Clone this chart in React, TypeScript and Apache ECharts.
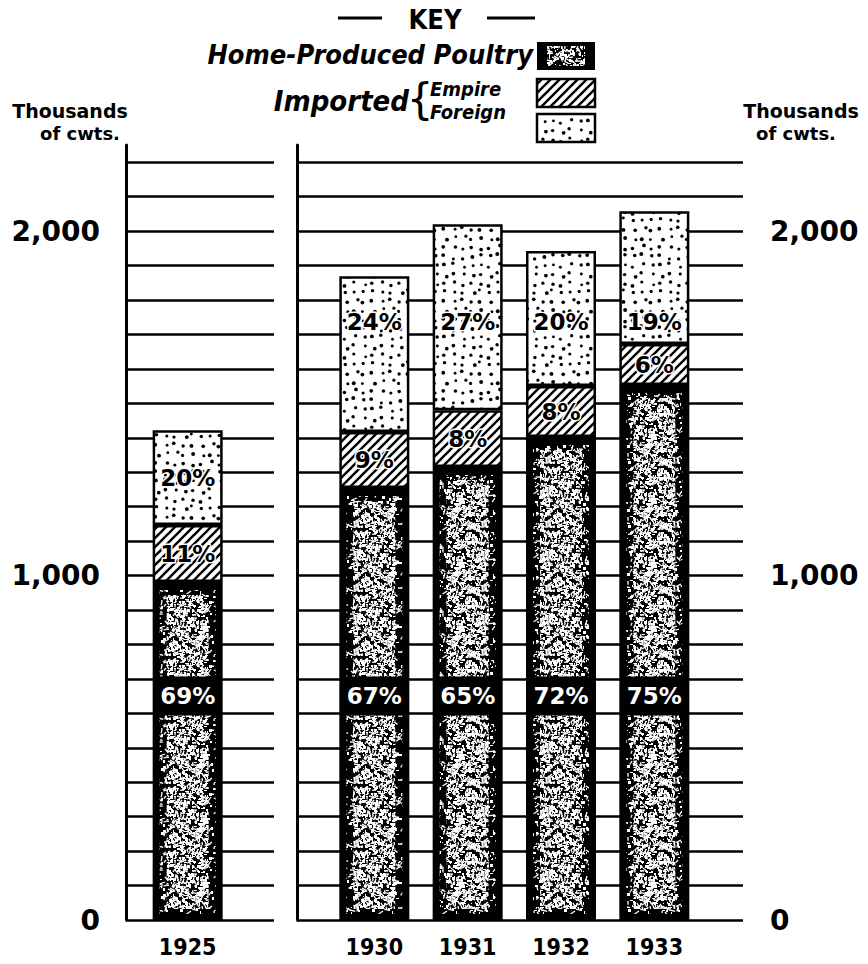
import React, { useEffect, useRef } from 'react';
import * as echarts from 'echarts';

// ---------- data ----------
const CATEGORIES = ['1925', '', '1930', '1931', '1932', '1933'];
const HOME = [981, null, 1254, 1315, 1402, 1553];
const EMPIRE = [166, null, 163, 165, 148, 119];
const FOREIGN = [275, null, 452, 540, 392, 386];
const HOME_PCT = ['69%', '', '67%', '65%', '72%', '75%'];
const EMPIRE_PCT = ['11%', '', '9%', '8%', '8%', '6%'];
const FOREIGN_PCT = ['20%', '', '24%', '27%', '20%', '19%'];
const Y_LABEL_VALUES = [0, 1000, 2000];
const Y_LABEL_TEXTS = ['0', '1,000', '2,000'];
const Y_MAX = 2250;
const Y_STEP = 100;
const HOME_LABEL_ROW = 650;
const FOREIGN_LABEL_ROW = 1736;

// ---------- styles ----------
const FONT = '"DejaVu Sans"';
const FONT_C = '"DejaVu Sans Condensed", "DejaVu Sans"';
const BAR_W = 70;

function rng(seed: number) {
  let s = seed >>> 0;
  return () => {
    s = (Math.imul(s, 1664525) + 1013904223) >>> 0;
    return s / 4294967296;
  };
}

function canvasOf(T: number) {
  const c = document.createElement('canvas');
  c.width = T;
  c.height = T;
  return [c, c.getContext('2d') as CanvasRenderingContext2D] as const;
}

function pattern(c: HTMLCanvasElement) {
  return { image: c.toDataURL(), imageWidth: c.width, imageHeight: c.height, repeat: 'repeat' };
}

function makeDots() {
  const T = 72;
  const [c, g] = canvasOf(T);
  g.fillStyle = '#fff';
  g.fillRect(0, 0, T, T);
  g.fillStyle = '#000';
  const r = rng(11);
  const n = 8;
  const cell = T / n;
  for (let i = 0; i < n; i++) {
    for (let j = 0; j < n; j++) {
      const x = i * cell + 2 + r() * (cell - 4);
      const y = j * cell + 2 + r() * (cell - 4);
      g.beginPath();
      g.arc(x, y, 1.4 + r() * 0.6, 0, Math.PI * 2);
      g.fill();
    }
  }
  return pattern(c);
}

function makeHatch() {
  const T = 9;
  const [c, g] = canvasOf(T);
  g.fillStyle = '#fff';
  g.fillRect(0, 0, T, T);
  g.strokeStyle = '#000';
  g.lineWidth = 2.4;
  for (const k of [-T, 0, T]) {
    g.beginPath();
    g.moveTo(k - 1, T + 1);
    g.lineTo(k + T + 1, -1);
    g.stroke();
  }
  return pattern(c);
}

function makeSpeckle(seed: number, count: number) {
  const T = 64;
  const [c, g] = canvasOf(T);
  g.clearRect(0, 0, T, T);
  g.fillStyle = '#fff';
  g.strokeStyle = '#fff';
  g.lineWidth = 1.3;
  const r = rng(seed);
  for (let k = 0; k < count; k++) {
    const x = Math.floor(r() * T);
    const y = Math.floor(r() * T);
    if (r() < 0.55) {
      const w = 1 + Math.floor(r() * 3);
      const h = 1 + Math.floor(r() * 3);
      for (const dx of [0, -T]) for (const dy of [0, -T]) g.fillRect(x + dx, y + dy, w, h);
    } else {
      const a = r() * Math.PI;
      const len = 2 + r() * 4;
      for (const dx of [0, -T]) {
        for (const dy of [0, -T]) {
          g.beginPath();
          g.moveTo(x + dx, y + dy);
          g.lineTo(x + dx + Math.cos(a) * len, y + dy + Math.sin(a) * len);
          g.stroke();
        }
      }
    }
  }
  return pattern(c);
}

function yLabel(v: number) {
  const k = Y_LABEL_VALUES.indexOf(v);
  return k >= 0 ? Y_LABEL_TEXTS[k] : '';
}

function foreignLabelY(i: number) {
  const lo = (HOME[i] as number) + (EMPIRE[i] as number);
  const hi = lo + (FOREIGN[i] as number);
  return FOREIGN_LABEL_ROW > lo + 40 && FOREIGN_LABEL_ROW < hi - 40 ? FOREIGN_LABEL_ROW : (lo + hi) / 2;
}

export default function App() {
  const ref = useRef<HTMLDivElement>(null);

  useEffect(() => {
    const el = ref.current as HTMLDivElement;
    const chart = echarts.init(el, null, { renderer: 'svg', width: 868, height: 964 });

    const dots = makeDots();
    const hatch = makeHatch();
    const speckSparse = makeSpeckle(3, 190);
    const speckDense = makeSpeckle(19, 620);

    const idx = CATEGORIES.map((_, i) => i).filter((i) => HOME[i] != null);

    const frameY = (gridIndex: number, position: string, margin: number) => ({
      type: 'value',
      gridIndex,
      position,
      min: 0,
      max: Y_MAX,
      interval: Y_STEP,
      axisLine: { show: true, lineStyle: { color: '#000', width: 3 } },
      axisTick: { show: false },
      axisLabel: {
        show: true,
        formatter: yLabel,
        margin,
        color: '#000',
        fontFamily: FONT,
        fontWeight: 'bold',
        fontSize: 28,
        showMaxLabel: false,
      },
      splitLine: { show: true, showMaxLine: false, lineStyle: { color: '#000', width: 2.5 } },
    });

    const txt = (text: string, x: number, y: number, font: string, align: string) => ({
      type: 'text',
      style: {
        text,
        x,
        y,
        font,
        fill: '#000',
        align,
        textAlign: align,
        verticalAlign: 'middle',
        textVerticalAlign: 'middle',
      },
    });

    const labelBase = {
      show: true,
      position: 'inside',
      fontFamily: FONT,
      fontWeight: 'bold',
      fontSize: 23,
    };

    const option: any = {
      animation: false,
      backgroundColor: '#fff',
      grid: [
        { left: 141, right: 167, top: 145, bottom: 44 },
        { left: 126, width: 148, top: 145, bottom: 44 },
        { left: 297, width: 446, top: 145, bottom: 44 },
      ],
      xAxis: [
        {
          type: 'category',
          gridIndex: 0,
          data: CATEGORIES,
          axisLine: { show: false },
          axisTick: { show: false },
          axisLabel: {
            margin: 15,
            color: '#000',
            fontFamily: FONT_C,
            fontWeight: 'bold',
            fontSize: 23,
            interval: 0,
          },
        },
        { type: 'value', gridIndex: 1, show: false, min: 0, max: 1 },
        { type: 'value', gridIndex: 2, show: false, min: 0, max: 1 },
      ],
      yAxis: [
        { type: 'value', gridIndex: 0, min: 0, max: Y_MAX, interval: Y_STEP, show: false },
        frameY(1, 'left', 26),
        frameY(2, 'right', 27),
      ],
      series: [
        {
          name: 'Home-Produced Poultry',
          type: 'bar',
          stack: 'total',
          barWidth: BAR_W,
          data: HOME,
          itemStyle: { color: '#000', borderColor: '#000', borderWidth: 2.5 },
        },
        {
          name: 'Imported Empire',
          type: 'bar',
          stack: 'total',
          barWidth: BAR_W,
          data: EMPIRE,
          itemStyle: { color: hatch, borderColor: '#000', borderWidth: 2.5 },
          label: {
            ...labelBase,
            formatter: (p: any) => EMPIRE_PCT[p.dataIndex],
            color: '#000',
            textBorderColor: '#fff',
            textBorderWidth: 3,
          },
        },
        {
          name: 'Imported Foreign',
          type: 'bar',
          stack: 'total',
          barWidth: BAR_W,
          data: FOREIGN,
          itemStyle: { color: dots, borderColor: '#000', borderWidth: 2.5 },
        },
        {
          name: 'texture',
          type: 'custom',
          silent: true,
          z: 3,
          encode: { x: 0, y: 1 },
          data: idx.map((i) => [i, HOME[i]]),
          renderItem: (_params: any, api: any) => {
            const i = api.value(0);
            const home = api.value(1);
            const p0 = api.coord([i, 0]);
            const p1 = api.coord([i, home]);
            const cx = p0[0];
            const y0 = p0[1];
            const y1 = p1[1];
            const half = BAR_W / 2;
            return {
              type: 'group',
              children: [
                {
                  type: 'rect',
                  shape: { x: cx - half + 7, y: y1 + 8, width: BAR_W - 14, height: y0 - y1 - 14 },
                  style: { fill: speckSparse },
                },
                {
                  type: 'rect',
                  shape: { x: cx - half + 14, y: y1 + 13, width: BAR_W - 28, height: y0 - y1 - 24 },
                  style: { fill: speckDense },
                },
              ],
            };
          },
        },
        {
          name: 'home share',
          type: 'scatter',
          silent: true,
          z: 5,
          symbolSize: 0,
          itemStyle: { opacity: 1 },
          data: idx.map((i) => [i, HOME_LABEL_ROW]),
          label: {
            ...labelBase,
            formatter: (p: any) => HOME_PCT[p.value[0]],
            color: '#fff',
            backgroundColor: '#000',
            padding: [8, 6],
          },
        },
        {
          name: 'foreign share',
          type: 'scatter',
          silent: true,
          z: 5,
          symbolSize: 0,
          itemStyle: { opacity: 1 },
          data: idx.map((i) => [i, foreignLabelY(i)]),
          label: {
            ...labelBase,
            formatter: (p: any) => FOREIGN_PCT[p.value[0]],
            color: '#000',
            textBorderColor: '#fff',
            textBorderWidth: 3,
          },
        },
      ],
      graphic: [
        txt('KEY', 435, 19, 'bold 27px ' + FONT_C, 'center'),
        { type: 'line', shape: { x1: 338, y1: 18, x2: 382, y2: 18 }, style: { stroke: '#000', lineWidth: 3 } },
        { type: 'line', shape: { x1: 487, y1: 18, x2: 535, y2: 18 }, style: { stroke: '#000', lineWidth: 3 } },
        txt('Home-Produced Poultry', 533, 54, 'italic bold 27px ' + FONT_C, 'right'),
        txt('Imported', 409, 101, 'italic bold 29px ' + FONT_C, 'right'),
        txt('{', 420, 99, 'normal 42px ' + FONT, 'center'),
        txt('Empire', 430, 89, 'italic bold 20px ' + FONT_C, 'left'),
        txt('Foreign', 430, 112, 'italic bold 20px ' + FONT_C, 'left'),
        { type: 'rect', shape: { x: 537, y: 42, width: 58, height: 28 }, style: { fill: '#000' } },
        { type: 'rect', shape: { x: 547, y: 46, width: 38, height: 20 }, style: { fill: speckDense } },
        {
          type: 'rect',
          shape: { x: 537, y: 79, width: 58, height: 28 },
          style: { fill: hatch, stroke: '#000', lineWidth: 2.5 },
        },
        {
          type: 'rect',
          shape: { x: 537, y: 114, width: 58, height: 28 },
          style: { fill: dots, stroke: '#000', lineWidth: 2.5 },
        },
        txt('Thousands', 70, 111, 'bold 19px ' + FONT, 'center'),
        txt('of cwts.', 80, 133, 'bold 18px ' + FONT, 'center'),
        txt('Thousands', 801, 111, 'bold 19px ' + FONT, 'center'),
        txt('of cwts.', 796, 133, 'bold 18px ' + FONT, 'center'),
      ],
    };

    chart.setOption(option);
    return () => chart.dispose();
  }, []);

  return (
    <div
      ref={ref}
      style={{ position: 'absolute', left: 0, top: 0, width: 868, height: 964, background: '#fff' }}
    />
  );
}
